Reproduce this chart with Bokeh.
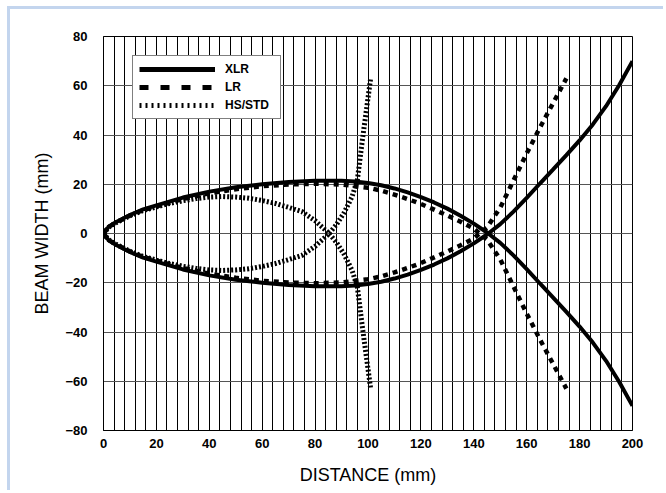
from bokeh.plotting import figure
from bokeh.models import Range1d, FixedTicker, Legend, LegendItem
from bokeh.embed import file_html
from bokeh.resources import INLINE

# Beam half-width (mm) versus distance (mm) for each lens type;
# the lower edge of each beam is the mirror image of the upper edge.
xlr_distance = [0, 2, 5, 10, 15, 20, 30, 40, 50, 60, 70, 80, 90, 95, 100, 105, 110, 115,
                120, 125, 130, 135, 140, 145, 150, 155, 160, 165, 170, 175, 180, 185,
                190, 195, 200]
xlr_half = [0, 2.8, 4.8, 7.5, 9.8, 11.4, 14.6, 17.0, 18.8, 20.0, 20.9, 21.4, 21.4, 21.1,
            20.5, 19.6, 18.3, 16.7, 14.8, 12.6, 10.1, 7.2, 4.0, 0.4, -3.8, -8.9, -14.5,
            -20.3, -26.0, -31.8, -37.8, -44.3, -51.7, -60.3, -70.0]

lr_distance = [0, 2, 5, 10, 15, 20, 30, 40, 50, 60, 70, 80, 90, 100, 105, 110, 115, 120,
               125, 130, 135, 140, 145, 150, 155, 160, 165, 170, 175]
lr_half = [0, 2.7, 4.6, 7.3, 9.5, 11.0, 14.0, 16.3, 18.0, 19.2, 19.9, 20.2, 19.9, 18.6,
           17.4, 15.8, 14.0, 12.0, 9.7, 7.3, 4.8, 2.0, -2.5, -10.5, -21.5, -32.5, -43.0,
           -53.0, -63.0]

hs_distance = [0, 2, 5, 10, 15, 20, 25, 30, 35, 40, 45, 50, 55, 60, 65, 70, 75, 80, 85,
               88, 91, 94, 96, 98, 99, 100, 101]
hs_half = [0, 2.6, 4.5, 7.2, 9.3, 10.8, 12.2, 13.3, 14.2, 14.8, 15.0, 14.8, 14.3, 13.4,
           12.2, 10.6, 8.9, 5.2, 0.3, -3.5, -8.5, -15.0, -22.0, -39.0, -47.0, -55.0, -63.0]

x_ticks = [0, 20, 40, 60, 80, 100, 120, 140, 160, 180, 200]
y_ticks = [-80, -60, -40, -20, 0, 20, 40, 60, 80]
x_grid_step = 4

FONT = "Liberation Sans Narrow, Arial Narrow, Liberation Sans, sans-serif"

p = figure(width=656, height=484, output_backend="svg", toolbar_location=None,
           x_range=Range1d(0, 200), y_range=Range1d(-80, 80),
           min_border_left=93, min_border_right=34, min_border_top=27,
           min_border_bottom=63)
p.margin = (6, 0, 0, 7)
p.styles = {"border-top": "3px solid #c3d5ee", "border-left": "3px solid #c3d5ee"}

p.background_fill_color = "white"
p.border_fill_color = "white"
p.outline_line_color = "black"
p.outline_line_width = 1

# grid: fine vertical rules, horizontal rules at every labelled value
p.xgrid.ticker = FixedTicker(ticks=list(range(0, 201, x_grid_step)))
p.xgrid.grid_line_color = "black"
p.xgrid.grid_line_width = 1
p.ygrid.ticker = FixedTicker(ticks=y_ticks)
p.ygrid.grid_line_color = "#555555"
p.ygrid.grid_line_width = 1

p.xaxis.ticker = FixedTicker(ticks=x_ticks)
p.yaxis.ticker = FixedTicker(ticks=y_ticks)
for ax in (p.xaxis, p.yaxis):
    ax.major_tick_line_color = None
    ax.minor_tick_line_color = None
    ax.axis_line_color = "black"
    ax.major_label_text_font = FONT
    ax.major_label_text_font_style = "bold"
    ax.major_label_text_font_size = "13px"
    ax.major_label_text_color = "black"
    ax.axis_label_text_font = FONT
    ax.axis_label_text_font_style = "normal"
    ax.axis_label_text_font_size = "18px"
    ax.axis_label_text_color = "black"

p.xaxis.axis_label = "DISTANCE (mm)"
p.yaxis.axis_label = "BEAM WIDTH (mm)"
p.xaxis.major_label_standoff = 2
p.xaxis.axis_label_standoff = 14
p.yaxis.major_label_standoff = 10
p.yaxis.axis_label_standoff = 10


def edges(xs, half):
    return [xs, xs], [half, [-v for v in half]]


hx, hy = edges(hs_distance, hs_half)
p.multi_line(hx, hy, line_color="black", line_width=5, line_dash="2 2")
lx, ly = edges(lr_distance, lr_half)
p.multi_line(lx, ly, line_color="black", line_width=4.5, line_dash="5 5")
xx, xy = edges(xlr_distance, xlr_half)
p.multi_line(xx, xy, line_color="black", line_width=4)

# legend keys: undrawn (NaN) lines carrying a longer dash rhythm for the key boxes
nan2 = [float("nan"), float("nan")]
key_xlr = p.line(x=nan2, y=nan2, line_color="black", line_width=5)
key_lr = p.line(x=nan2, y=nan2, line_color="black", line_width=5, line_dash="9 12")
key_hs = p.line(x=nan2, y=nan2, line_color="black", line_width=5, line_dash="2 4")

legend = Legend(items=[LegendItem(label="XLR", renderers=[key_xlr]),
                       LegendItem(label="LR", renderers=[key_lr]),
                       LegendItem(label="HS/STD", renderers=[key_hs])],
                location=(29, 311))
legend.border_line_color = "black"
legend.border_line_width = 1
legend.background_fill_color = "white"
legend.background_fill_alpha = 1
legend.glyph_width = 76
legend.glyph_height = 14
legend.label_height = 14
legend.label_width = 49
legend.label_standoff = 10
legend.spacing = 4
legend.padding = 6
legend.margin = 0
legend.label_text_font = FONT
legend.label_text_font_style = "bold"
legend.label_text_font_size = "12px"
legend.label_text_color = "black"
p.add_layout(legend)

open("out.html", "w").write(file_html(p, INLINE))
